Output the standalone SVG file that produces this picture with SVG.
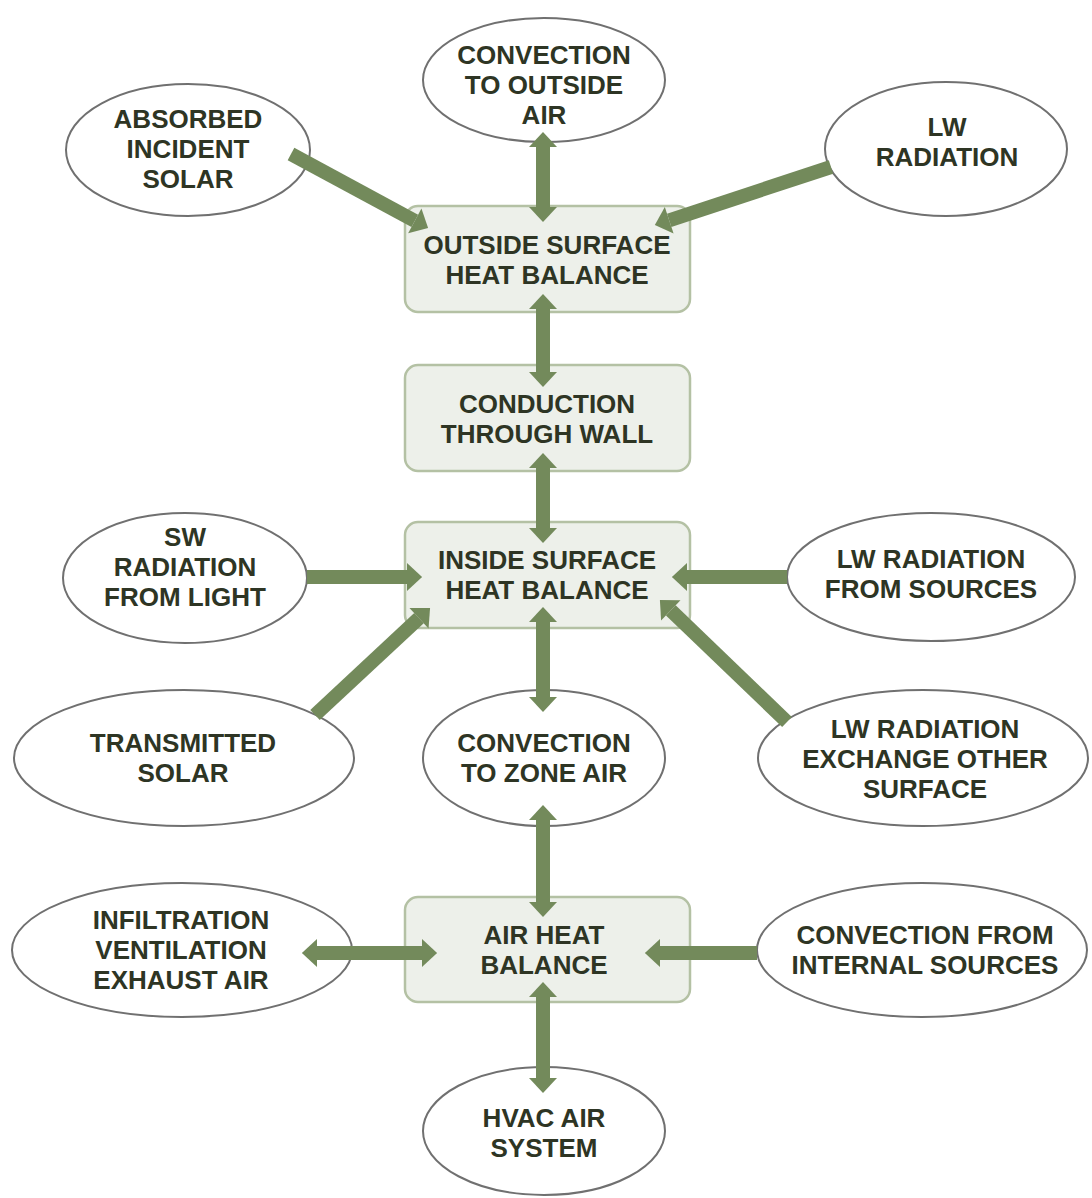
<svg xmlns="http://www.w3.org/2000/svg" width="1092" height="1198" viewBox="0 0 1092 1198">
<style>
.ell{fill:#ffffff;stroke:#707070;stroke-width:2}
.box{fill:#edf0ea;stroke:#b4c1a4;stroke-width:2.5}
.t{font-family:"Liberation Sans",Arial,sans-serif;font-weight:bold;font-size:26px;fill:#2e3524;text-anchor:middle}
.c{stroke:#738a5b;stroke-width:14;fill:none}
.ar{marker-end:url(#h)}
.dbl{marker-start:url(#h);marker-end:url(#h)}
</style>
<defs>
<marker id="h" viewBox="0 -1 1.1 2" refX="0" refY="0" markerWidth="1.1" markerHeight="2" markerUnits="strokeWidth" orient="auto-start-reverse" overflow="visible">
<path d="M0,-1 L1.08,0 L0,1 Z" fill="#738a5b"/>
</marker>
</defs>
<rect width="1092" height="1198" fill="#ffffff"/>
<g id="n-conv-out"><ellipse class="ell" cx="544" cy="80" rx="121" ry="62"/><text class="t" x="544" y="64">CONVECTION</text><text class="t" x="544" y="94">TO OUTSIDE</text><text class="t" x="544" y="124">AIR</text></g>
<g id="n-absorbed"><ellipse class="ell" cx="188" cy="150" rx="122" ry="66"/><text class="t" x="188" y="128">ABSORBED</text><text class="t" x="188" y="158">INCIDENT</text><text class="t" x="188" y="188">SOLAR</text></g>
<g id="n-lw"><ellipse class="ell" cx="946" cy="149" rx="121" ry="67"/><text class="t" x="947" y="136">LW</text><text class="t" x="947" y="166">RADIATION</text></g>
<g id="n-outside"><rect class="box" x="405" y="206" width="285" height="106" rx="13"/><text class="t" x="547" y="254">OUTSIDE SURFACE</text><text class="t" x="547" y="284">HEAT BALANCE</text></g>
<g id="n-conduction"><rect class="box" x="405" y="365" width="285" height="106" rx="13"/><text class="t" x="547" y="413">CONDUCTION</text><text class="t" x="547" y="443">THROUGH WALL</text></g>
<g id="n-sw"><ellipse class="ell" cx="185" cy="578" rx="122" ry="65"/><text class="t" x="185" y="546">SW</text><text class="t" x="185" y="576">RADIATION</text><text class="t" x="185" y="606">FROM LIGHT</text></g>
<g id="n-inside"><rect class="box" x="405" y="522" width="285" height="106" rx="13"/><text class="t" x="547" y="569">INSIDE SURFACE</text><text class="t" x="547" y="599">HEAT BALANCE</text></g>
<g id="n-lw-src"><ellipse class="ell" cx="931" cy="577" rx="144" ry="64"/><text class="t" x="931" y="568">LW RADIATION</text><text class="t" x="931" y="598">FROM SOURCES</text></g>
<g id="n-trans"><ellipse class="ell" cx="184" cy="758" rx="170" ry="68"/><text class="t" x="183" y="752">TRANSMITTED</text><text class="t" x="183" y="782">SOLAR</text></g>
<g id="n-conv-zone"><ellipse class="ell" cx="544" cy="758" rx="121" ry="68"/><text class="t" x="544" y="752">CONVECTION</text><text class="t" x="544" y="782">TO ZONE AIR</text></g>
<g id="n-lw-ex"><ellipse class="ell" cx="923" cy="758" rx="165" ry="68"/><text class="t" x="925" y="738">LW RADIATION</text><text class="t" x="925" y="768">EXCHANGE OTHER</text><text class="t" x="925" y="798">SURFACE</text></g>
<g id="n-infil"><ellipse class="ell" cx="182" cy="950" rx="170" ry="67"/><text class="t" x="181" y="929">INFILTRATION</text><text class="t" x="181" y="959">VENTILATION</text><text class="t" x="181" y="989">EXHAUST AIR</text></g>
<g id="n-air"><rect class="box" x="405" y="897" width="285" height="105" rx="13"/><text class="t" x="544" y="944">AIR HEAT</text><text class="t" x="544" y="974">BALANCE</text></g>
<g id="n-conv-int"><ellipse class="ell" cx="922" cy="950" rx="165" ry="67"/><text class="t" x="925" y="944">CONVECTION FROM</text><text class="t" x="925" y="974">INTERNAL SOURCES</text></g>
<g id="n-hvac"><ellipse class="ell" cx="544" cy="1131" rx="121" ry="64"/><text class="t" x="544" y="1127">HVAC AIR</text><text class="t" x="544" y="1157">SYSTEM</text></g>
<g id="connectors">
<line class="c dbl" x1="543" y1="147" x2="543" y2="207"/>
<line class="c dbl" x1="543" y1="309" x2="543" y2="372"/>
<line class="c dbl" x1="543" y1="468" x2="543" y2="528"/>
<line class="c dbl" x1="543" y1="622" x2="543" y2="697"/>
<line class="c dbl" x1="543" y1="820" x2="543" y2="902"/>
<line class="c dbl" x1="543" y1="997" x2="543" y2="1078"/>
<line class="c ar" x1="307" y1="577" x2="407" y2="577"/>
<line class="c ar" x1="787" y1="577" x2="687" y2="577"/>
<line class="c dbl" x1="317" y1="953" x2="422" y2="953"/>
<line class="c ar" x1="757" y1="953" x2="660" y2="953"/>
<line class="c ar" x1="291" y1="154" x2="414.8" y2="220.9"/>
<line class="c ar" x1="831" y1="167" x2="669.2" y2="220.3"/>
<line class="c ar" x1="315" y1="715" x2="419" y2="618.2"/>
<line class="c ar" x1="787" y1="722" x2="670.8" y2="610.4"/>
</g>
</svg>
